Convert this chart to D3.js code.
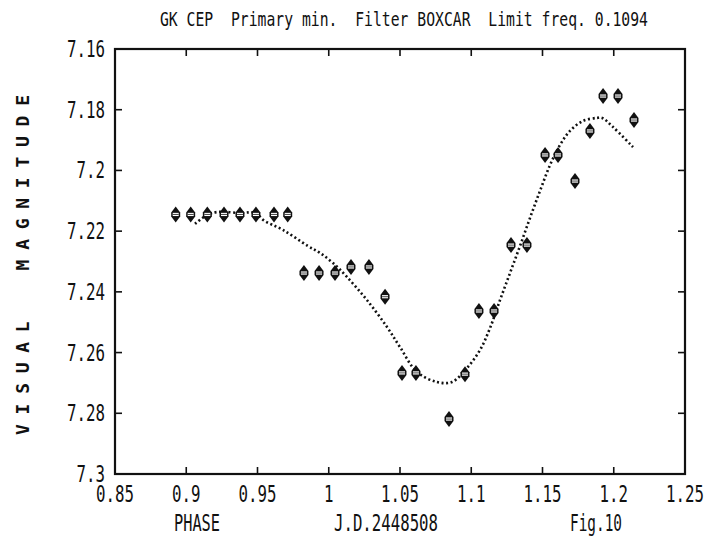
<!DOCTYPE html>
<html lang="en">
<head>
<meta charset="UTF-8">
<title>GK CEP Primary min.</title>
<style>
  body { margin: 0; background: #fff; }
  svg text { font-family: "DejaVu Sans Mono", monospace; fill: #111; white-space: pre; }
  .frame { fill: none; stroke: #111; stroke-width: 2.2; }
  .tick { stroke: #111; stroke-width: 1.6; }
  .fit { fill: none; stroke: #111; stroke-width: 2.6; stroke-dasharray: 2,2.6; }
</style>
</head>
<body>
<svg id="chart" width="714" height="545"></svg>
<script src="https://d3js.org/d3.v7.min.js"></script>
<script>

// observed points (phase, visual magnitude)
var phase = [0.8926, 0.9031, 0.9148, 0.9265, 0.9377, 0.9489, 0.9616, 0.9712,
             0.9826, 0.9932, 1.0044, 1.0156, 1.0282, 1.0395, 1.0514, 1.0612,
             1.0844, 1.0956, 1.1054, 1.1160, 1.1279, 1.1391, 1.1518, 1.1609,
             1.1728, 1.1833, 1.1925, 1.2030, 1.2142];
var mag = [7.2145, 7.2145, 7.2145, 7.2145, 7.2145, 7.2145, 7.2145, 7.2145,
           7.2338, 7.2338, 7.2338, 7.2318, 7.2318, 7.2416, 7.2667, 7.2667,
           7.2819, 7.2671, 7.2463, 7.2463, 7.2246, 7.2246, 7.1949, 7.1949,
           7.2035, 7.1870, 7.1755, 7.1755, 7.1834];

// boxcar filtered curve
var fitPhase = [0.9061, 0.9146, 0.9216, 0.9377, 0.9489, 0.9539, 0.9679, 0.9854,
                0.9939, 1.0030, 1.0128, 1.0268, 1.0409, 1.0500, 1.0619, 1.0760,
                1.0865, 1.0970, 1.1061, 1.1132, 1.1202, 1.1272, 1.1342, 1.1412,
                1.1482, 1.1553, 1.1623, 1.1693, 1.1784, 1.1882, 1.1918, 1.1995,
                1.2135];
var fitMag = [7.2176, 7.2147, 7.2137, 7.2140, 7.2140, 7.2163, 7.2196, 7.2249,
              7.2272, 7.2305, 7.2351, 7.2427, 7.2516, 7.2582, 7.2664, 7.2697,
              7.2697, 7.2651, 7.2592, 7.2519, 7.2427, 7.2338, 7.2249, 7.2157,
              7.2068, 7.1982, 7.1916, 7.1870, 7.1837, 7.1827, 7.1827, 7.1857,
              7.1923];

var xTicks = [0.85, 0.9, 0.95, 1, 1.05, 1.1, 1.15, 1.2, 1.25];
var yTicks = [7.16, 7.18, 7.2, 7.22, 7.24, 7.26, 7.28, 7.3];

var plotL = 115, plotR = 685, plotT = 49, plotB = 474;

var x = d3.scaleLinear().domain([0.85, 1.25]).range([plotL, plotR]);
var y = d3.scaleLinear().domain([7.16, 7.3]).range([plotT, plotB]);

var svg = d3.select("#chart");

svg.append("rect").attr("class", "frame")
    .attr("x", plotL).attr("y", plotT)
    .attr("width", plotR - plotL).attr("height", plotB - plotT);

// inward ticks on all four sides
var tk = 7;
xTicks.slice(1, -1).forEach(function(t) {
    svg.append("line").attr("class", "tick")
        .attr("x1", x(t)).attr("x2", x(t)).attr("y1", plotB).attr("y2", plotB - tk);
    svg.append("line").attr("class", "tick")
        .attr("x1", x(t)).attr("x2", x(t)).attr("y1", plotT).attr("y2", plotT + tk);
});
yTicks.slice(1, -1).forEach(function(t) {
    svg.append("line").attr("class", "tick")
        .attr("x1", plotL).attr("x2", plotL + tk).attr("y1", y(t)).attr("y2", y(t));
    svg.append("line").attr("class", "tick")
        .attr("x1", plotR).attr("x2", plotR - tk).attr("y1", y(t)).attr("y2", y(t));
});

// tick labels
svg.selectAll(".xl").data(xTicks).enter().append("text")
    .attr("x", function(d) { return x(d); })
    .attr("y", 502)
    .attr("text-anchor", "middle")
    .attr("font-size", 23)
    .attr("textLength", function(d) { return String(d).length * 9.5; })
    .attr("lengthAdjust", "spacingAndGlyphs")
    .text(function(d) { return String(d); });

svg.selectAll(".yl").data(yTicks).enter().append("text")
    .attr("x", 105)
    .attr("y", function(d) { return y(d) + 8; })
    .attr("text-anchor", "end")
    .attr("font-size", 23)
    .attr("textLength", function(d) { return String(d).length * 9.5; })
    .attr("lengthAdjust", "spacingAndGlyphs")
    .text(function(d) { return String(d); });

// title
svg.append("text")
    .attr("x", 160).attr("y", 26)
    .attr("font-size", 19)
    .attr("textLength", 488)
    .attr("lengthAdjust", "spacingAndGlyphs")
    .text("GK CEP  Primary min.  Filter BOXCAR  Limit freq. 0.1094");

// bottom labels
[["PHASE", 197, 46], ["J.D.2448508", 386, 104], ["Fig.10", 596, 52]].forEach(function(l) {
    svg.append("text")
        .attr("x", l[1]).attr("y", 531)
        .attr("text-anchor", "middle")
        .attr("font-size", 23)
        .attr("textLength", l[2])
        .attr("lengthAdjust", "spacingAndGlyphs")
        .text(l[0]);
});

// y axis title
svg.append("text")
    .attr("transform", "translate(29,265) rotate(-90)")
    .attr("text-anchor", "middle")
    .attr("font-size", 18)
    .attr("font-weight", "bold")
    .attr("textLength", 340)
    .attr("lengthAdjust", "spacing")
    .text("VISUAL  MAGNITUDE");

// filtered curve
var line = d3.line()
    .x(function(d) { return x(d[0]); })
    .y(function(d) { return y(d[1]); })
    .curve(d3.curveCatmullRom);

svg.append("path").attr("class", "fit")
    .attr("d", line(d3.zip(fitPhase, fitMag)));

// point markers: black diamond with a white bar
var pts = svg.selectAll(".pt").data(d3.zip(phase, mag)).enter().append("g")
    .attr("transform", function(d) { return "translate(" + x(d[0]) + "," + y(d[1]) + ")"; });

pts.append("path")
    .attr("d", "M0,-8 L4.5,-2 L4.5,2 L0,8 L-4.5,2 L-4.5,-2 Z")
    .attr("fill", "#111");
pts.append("rect")
    .attr("x", -3).attr("y", -1.6).attr("width", 6).attr("height", 3.2)
    .attr("fill", "#fff");
pts.append("line")
    .attr("x1", -3).attr("x2", 3).attr("y1", 0).attr("y2", 0)
    .attr("stroke", "#111").attr("stroke-width", 0.8);

</script>
</body>
</html>
